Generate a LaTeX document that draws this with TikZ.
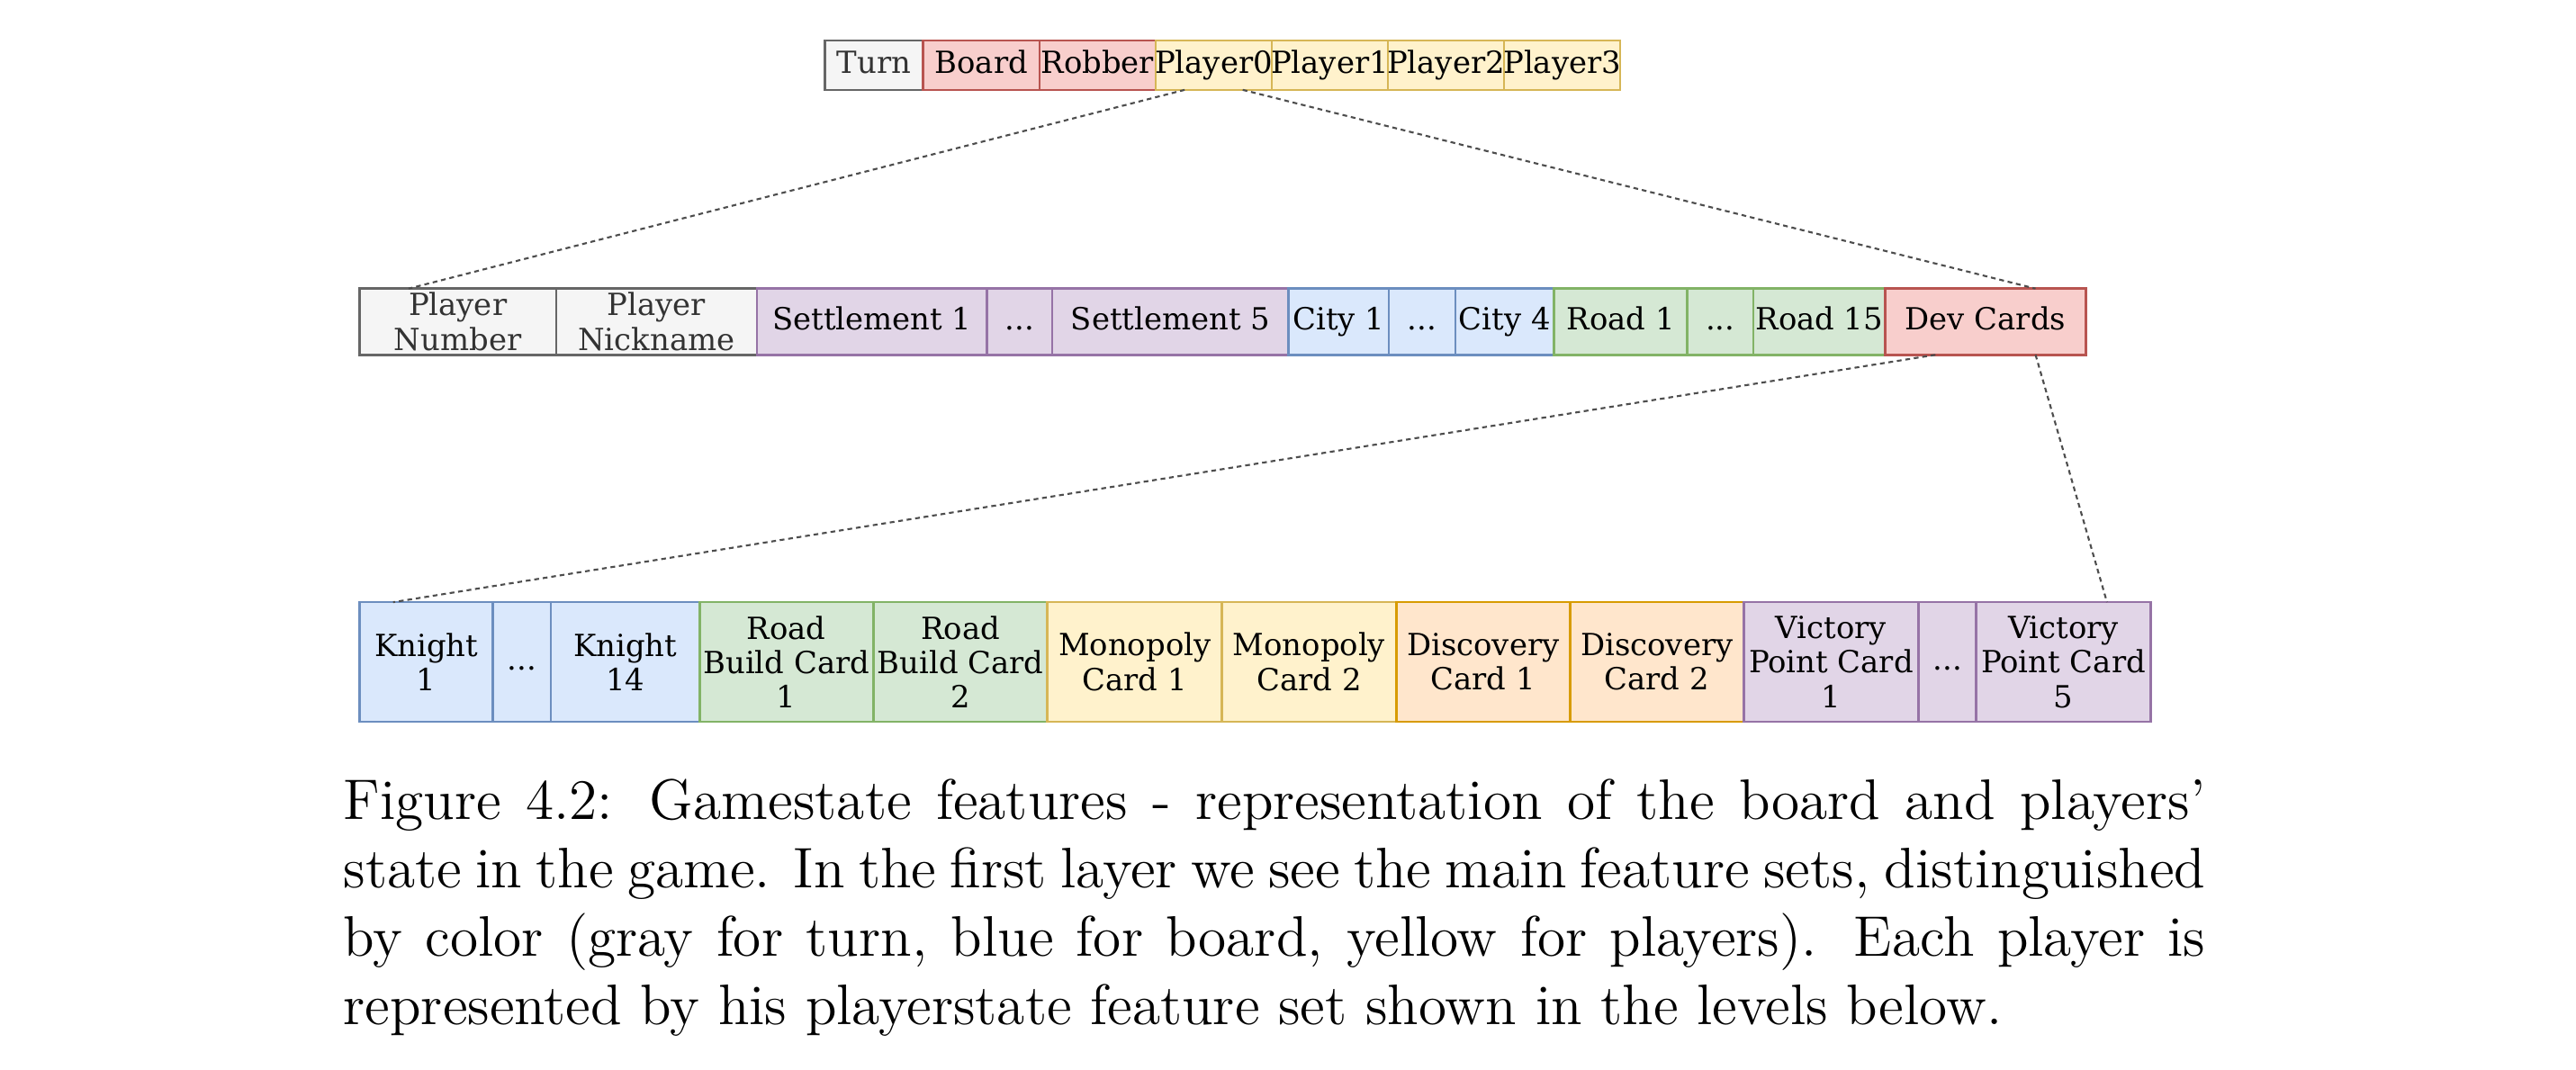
\documentclass[tikz,border=0pt]{standalone}
\usepackage{fontspec}
\newfontfamily\cellfont{DejaVu Serif}
\usetikzlibrary{positioning, calc}
\definecolor{grayfill}{HTML}{F5F5F5}
\definecolor{grayline}{HTML}{666666}
\definecolor{graytext}{HTML}{333333}
\definecolor{redfill}{HTML}{F8CECC}
\definecolor{redline}{HTML}{B85450}
\definecolor{yellowfill}{HTML}{FFF2CC}
\definecolor{yellowline}{HTML}{D6B656}
\definecolor{purplefill}{HTML}{E1D5E7}
\definecolor{purpleline}{HTML}{9673A6}
\definecolor{bluefill}{HTML}{DAE8FC}
\definecolor{blueline}{HTML}{6C8EBF}
\definecolor{greenfill}{HTML}{D5E8D4}
\definecolor{greenline}{HTML}{82B366}
\definecolor{orangefill}{HTML}{FFE6CC}
\definecolor{orangeline}{HTML}{D79B00}
\definecolor{linkgray}{HTML}{4D4D4D}
% text that may spill over its cell without widening it
\newcommand{\fixw}[1]{\makebox[0pt]{\vphantom{Apg}#1}}
\newcommand{\celldots}{\vphantom{Apg}...}
\tikzset{
	cell/.style={draw, line width=0.5pt, inner sep=0pt, outer sep=0pt, align=center,
		font=\cellfont\fontsize{6.4pt}{7.25pt}\selectfont},
	cellw/.style={minimum width=#1*0.345pt},
	toprow/.style={minimum height=30*0.345pt},
	midrow/.style={minimum height=40.3*0.345pt},
	lowrow/.style={minimum height=72.7*0.345pt}
}
\tikzset{
	graycell/.style={cell, fill=grayfill, draw=grayline, text=graytext},
	redcell/.style={cell, fill=redfill, draw=redline},
	yellowcell/.style={cell, fill=yellowfill, draw=yellowline},
	purplecell/.style={cell, fill=purplefill, draw=purpleline},
	bluecell/.style={cell, fill=bluefill, draw=blueline},
	greencell/.style={cell, fill=greenfill, draw=greenline},
	orangecell/.style={cell, fill=orangefill, draw=orangeline}
}
\tikzset{
	link/.style={draw=linkgray, line width=0.4pt, dash pattern=on 1pt off 0.8pt},
	captiontext/.style={inner sep=0pt, text width=391pt, align=justify,
		font=\fontsize{12pt}{14.4pt}\selectfont}
}

\begin{document}
\begin{tikzpicture}[x=0.345pt, y=-0.345pt]
      \useasboundingbox (0,0) rectangle (1568,651);
      % first layer: game state
      \node[graycell, toprow, cellw=60, anchor=north west] (turn) at (502,24.7) {\fixw{Turn}};
      \node[redcell, toprow, cellw=70.7, right=0pt of turn] (board) {\fixw{Board}};
      \node[redcell, toprow, cellw=70.7, right=0pt of board] (robber) {\fixw{Robber}};
      \node[yellowcell, toprow, cellw=70.7, right=0pt of robber] (player0) {\fixw{Player0}};
      \node[yellowcell, toprow, cellw=70.7, right=0pt of player0] (player1) {\fixw{Player1}};
      \node[yellowcell, toprow, cellw=70.7, right=0pt of player1] (player2) {\fixw{Player2}};
      \node[yellowcell, toprow, cellw=70.7, right=0pt of player2] (player3) {\fixw{Player3}};
      % second layer: player state
      \node[graycell, midrow, cellw=119.7, anchor=north west] (pnumber) at (218.8,175.7) {Player\\Number};
      \node[graycell, midrow, cellw=122.2, right=0pt of pnumber] (pnick) {Player\\Nickname};
      \node[purplecell, midrow, cellw=140.2, right=0pt of pnick] (settle1) {\fixw{Settlement 1}};
      \node[purplecell, midrow, cellw=39.6, right=0pt of settle1] (settledots) {\celldots};
      \node[purplecell, midrow, cellw=143.9, right=0pt of settledots] (settle5) {\fixw{Settlement 5}};
      \node[bluecell, midrow, cellw=61, right=0pt of settle5] (city1) {\fixw{City 1}};
      \node[bluecell, midrow, cellw=40.5, right=0pt of city1] (citydots) {\celldots};
      \node[bluecell, midrow, cellw=60.1, right=0pt of citydots] (city4) {\fixw{City 4}};
      \node[greencell, midrow, cellw=81, right=0pt of city4] (road1) {\fixw{Road 1}};
      \node[greencell, midrow, cellw=40.2, right=0pt of road1] (roaddots) {\celldots};
      \node[greencell, midrow, cellw=80.4, right=0pt of roaddots] (road15) {\fixw{Road 15}};
      \node[redcell, midrow, cellw=121.9, right=0pt of road15] (devcards) {\fixw{Dev Cards}};
      % third layer: development cards
      \node[bluecell, lowrow, cellw=81, anchor=north west] (knight1) at (219,366.6) {Knight\\1};
      \node[bluecell, lowrow, cellw=35.3, right=0pt of knight1] (knightdots) {\celldots};
      \node[bluecell, lowrow, cellw=90.5, right=0pt of knightdots] (knight14) {Knight\\14};
      \node[greencell, lowrow, cellw=105.8, right=0pt of knight14] (roadcard1) {Road\\Build Card\\1};
      \node[greencell, lowrow, cellw=106, right=0pt of roadcard1] (roadcard2) {Road\\Build Card\\2};
      \node[yellowcell, lowrow, cellw=106.2, right=0pt of roadcard2] (mono1) {Monopoly\\Card 1};
      \node[yellowcell, lowrow, cellw=106.1, right=0pt of mono1] (mono2) {Monopoly\\Card 2};
      \node[orangecell, lowrow, cellw=105.7, right=0pt of mono2] (disc1) {Discovery\\Card 1};
      \node[orangecell, lowrow, cellw=105.8, right=0pt of disc1] (disc2) {Discovery\\Card 2};
      \node[purplecell, lowrow, cellw=106.4, right=0pt of disc2] (vp1) {Victory\\Point Card\\1};
      \node[purplecell, lowrow, cellw=35.2, right=0pt of vp1] (vpdots) {\celldots};
      \node[purplecell, lowrow, cellw=106, right=0pt of vpdots] (vp5) {Victory\\Point Card\\5};
      % dashed links between layers
      \draw[link] ($(player0.south west)!0.25!(player0.south east)$) -- ($(pnumber.north west)!0.25!(pnumber.north east)$);
      \draw[link] ($(player0.south west)!0.75!(player0.south east)$) -- ($(devcards.north west)!0.75!(devcards.north east)$);
      \draw[link] ($(devcards.south west)!0.25!(devcards.south east)$) -- ($(knight1.north west)!0.25!(knight1.north east)$);
      \draw[link] ($(devcards.south west)!0.75!(devcards.south east)$) -- ($(vp5.north west)!0.75!(vp5.north east)$);
      % caption
      \node[captiontext, anchor=north west] (caption) at (208.5,473.5) {Figure 4.2: Gamestate features - representation of the board and players' state in the game. In the first layer we see the main feature sets, distinguished by color (gray for turn, blue for board, yellow for players). Each player is represented by his playerstate feature set shown in the levels below.};
    \end{tikzpicture}
\end{document}
